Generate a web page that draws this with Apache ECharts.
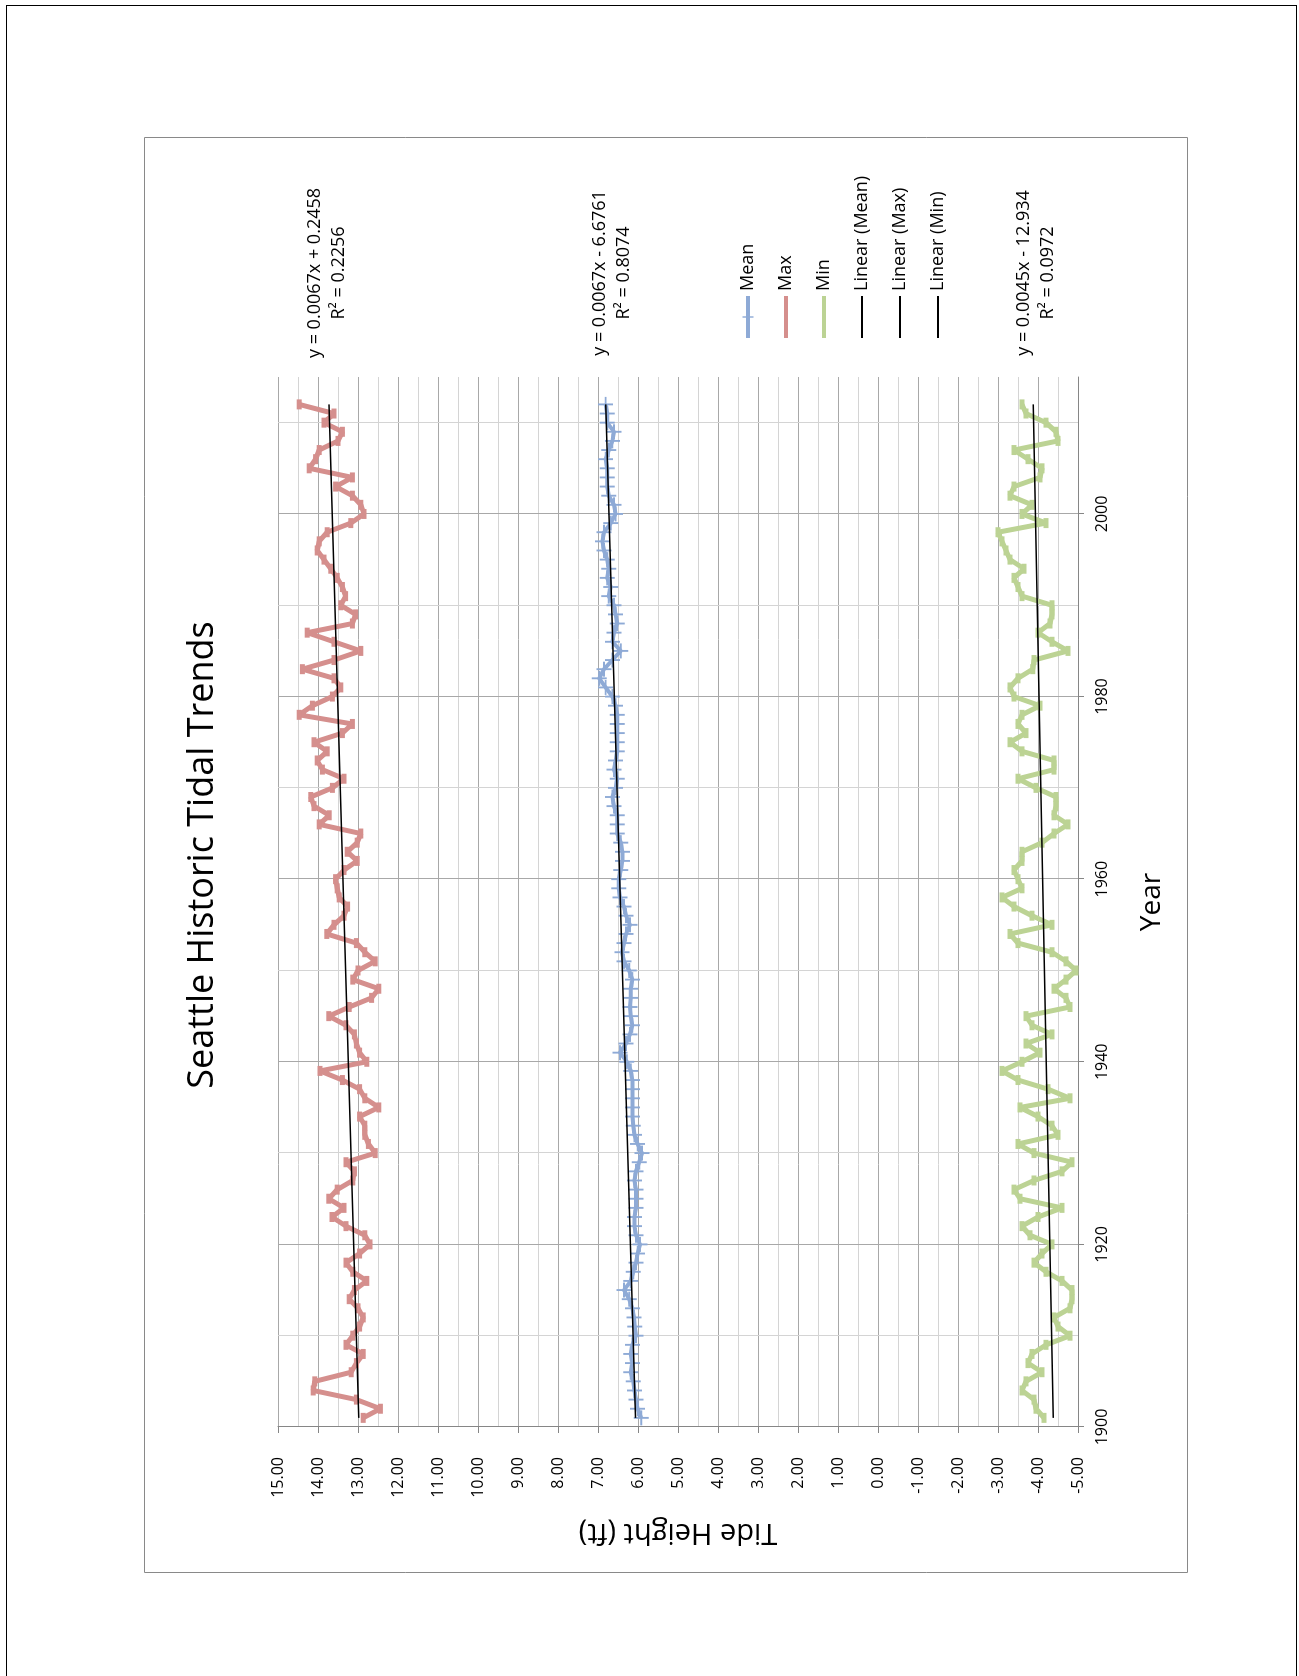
<!DOCTYPE html>
<html><head><meta charset="utf-8">
<script src="https://cdn.jsdelivr.net/npm/echarts@6/dist/echarts.min.js"></script>
<style>
html,body{margin:0;padding:0;background:#fff;width:1299px;height:1676px;overflow:hidden;}
#page{position:absolute;left:6px;top:5px;width:1291px;height:1700px;border:1px solid #000;box-sizing:border-box;}
#frame{position:absolute;left:0;top:0;width:1436px;height:1044px;transform-origin:0 0;transform:translate(144px,1573px) rotate(-90deg);background:#fff;}
#chart{position:absolute;left:0;top:0;width:1436px;height:1044px;}
</style></head>
<body>
<div id="page"></div>
<div id="frame"><div id="chart"></div></div>
<script>
const years = [1901,1902,1903,1904,1905,1906,1907,1908,1909,1910,1911,1912,1913,1914,1915,1916,1917,1918,1919,1920,
1921,1922,1923,1924,1925,1926,1927,1928,1929,1930,1931,1932,1933,1934,1935,1936,1937,1938,1939,1940,
1941,1942,1943,1944,1945,1946,1947,1948,1949,1950,1951,1952,1953,1954,1955,1956,1957,1958,1959,1960,
1961,1962,1963,1964,1965,1966,1967,1968,1969,1970,1971,1972,1973,1974,1975,1976,1977,1978,1979,1980,
1981,1982,1983,1984,1985,1986,1987,1988,1989,1990,1991,1992,1993,1994,1995,1996,1997,1998,1999,2000,
2001,2002,2003,2004,2005,2006,2007,2008,2009,2010,2011,2012];

const meanVals = [5.92,6.01,6.05,6.09,6.12,6.18,6.14,6.18,6.14,6.05,6.08,6.10,6.14,6.22,6.35,6.18,6.12,6.05,6.01,5.95,
6.05,6.09,6.09,6.05,6.05,6.05,6.09,6.05,5.97,5.90,6.01,6.09,6.12,6.14,6.14,6.14,6.14,6.14,6.18,6.28,
6.45,6.30,6.20,6.14,6.18,6.20,6.18,6.18,6.14,6.22,6.35,6.40,6.35,6.30,6.20,6.30,6.35,6.45,6.48,6.48,
6.43,6.39,6.39,6.43,6.52,6.52,6.52,6.60,6.64,6.56,6.52,6.60,6.56,6.52,6.52,6.52,6.52,6.52,6.56,6.64,
6.81,6.97,6.85,6.64,6.43,6.64,6.60,6.52,6.56,6.60,6.73,6.68,6.77,6.73,6.77,6.85,6.89,6.85,6.68,6.56,
6.60,6.73,6.77,6.77,6.77,6.81,6.73,6.64,6.60,6.77,6.77,6.81];

const maxVals = [12.87,12.44,13.04,14.12,14.08,13.17,13.04,12.87,13.30,13.13,12.96,12.87,13.00,13.22,13.09,12.78,13.13,13.30,12.96,12.70,
12.83,13.30,13.65,13.35,13.73,13.52,13.13,13.09,13.30,12.57,12.74,12.83,12.83,12.96,12.48,12.83,12.96,13.39,13.95,12.78,
12.96,13.04,13.09,13.30,13.73,13.22,12.66,12.48,13.13,13.00,12.57,12.83,13.04,13.78,13.60,13.35,13.26,13.47,13.52,13.56,
13.35,13.02,13.27,13.02,12.93,13.97,13.72,14.10,14.18,13.64,13.35,13.89,14.02,13.77,14.10,13.39,13.14,14.47,14.14,13.64,
13.43,13.60,14.39,13.60,12.93,13.60,14.27,13.14,13.06,13.43,13.31,13.39,13.52,13.68,13.85,14.02,13.97,13.77,13.18,12.85,
12.93,13.14,13.56,13.14,14.22,14.06,13.97,13.50,13.39,13.85,13.60,14.47];

const minVals = [-4.15,-3.95,-3.90,-3.60,-3.70,-4.10,-3.75,-3.85,-4.20,-4.80,-4.50,-4.40,-4.80,-4.85,-4.85,-4.60,-4.20,-3.90,-4.10,-4.35,
-3.80,-3.60,-4.00,-4.60,-3.55,-3.40,-3.90,-4.60,-4.85,-3.90,-3.50,-4.50,-4.35,-4.00,-3.55,-4.80,-4.25,-3.50,-3.10,-3.60,
-4.05,-3.70,-4.35,-3.85,-3.70,-4.80,-4.70,-4.40,-4.70,-4.95,-4.70,-4.35,-3.50,-3.30,-4.35,-3.85,-3.40,-3.10,-3.60,-3.50,
-3.40,-3.60,-3.60,-4.10,-4.40,-4.75,-4.40,-4.45,-4.45,-3.95,-3.50,-4.40,-4.40,-3.60,-3.30,-3.70,-3.50,-3.60,-4.05,-3.40,
-3.30,-3.50,-3.87,-3.90,-4.75,-4.35,-4.00,-4.30,-4.35,-4.35,-3.60,-3.50,-3.40,-3.65,-3.30,-3.20,-3.10,-3.00,-4.20,-3.60,
-3.85,-3.30,-3.40,-4.05,-4.10,-3.75,-3.40,-4.50,-4.45,-4.20,-3.70,-3.60];

const seriesNames = ['Mean', 'Max', 'Min'];
const trendNames = ['Linear (Mean)', 'Linear (Max)', 'Linear (Min)'];
const trendSlope = [0.0067, 0.0067, 0.0045];
const trendIntercept = [-6.6761, 0.2458, -12.934];
const trendR2 = ['0.8074', '0.2256', '0.0972'];
const yearTickLabels = [1900, 1920, 1940, 1960, 1980, 2000];
const titleText = 'Seattle Historic Tidal Trends';
const xTitle = 'Year';
const yTitle = 'Tide Height (ft)';

const FONT = '"Open Sans", "Noto Sans", sans-serif';
const colors = { Mean: '#8EAAD6', Max: '#D58F8D', Min: '#BCD394' };

function pairs(vals) { return years.map((y, i) => [y, vals[i]]); }
function trendLine(k) {
  const x0 = years[0], x1 = years[years.length - 1];
  return [[x0, trendSlope[k] * x0 + trendIntercept[k]], [x1, trendSlope[k] * x1 + trendIntercept[k]]];
}
function eqText(k) {
  const b = trendIntercept[k];
  return 'y = ' + trendSlope[k] + 'x ' + (b < 0 ? '- ' : '+ ') + Math.abs(b) + '\nR\u00B2 = ' + trendR2[k];
}

const plusPath = 'path://M7,0 L9,0 L9,7 L16,7 L16,9 L9,9 L9,16 L7,16 L7,9 L0,9 L0,7 L7,7 Z';

const chart = echarts.init(document.getElementById('chart'), null, { width: 1436, height: 1044, renderer: 'canvas' });

const dataSeries = [
  { name: 'Mean', vals: meanVals, symbol: plusPath, symbolSize: 15, width: 4 },
  { name: 'Max', vals: maxVals, symbol: 'rect', symbolSize: [10, 5], width: 5 },
  { name: 'Min', vals: minVals, symbol: 'rect', symbolSize: [10, 5], width: 5 }
].map(s => ({
  name: s.name, type: 'line', data: pairs(s.vals), xAxisIndex: 0, yAxisIndex: 0,
  symbol: s.symbol, symbolSize: s.symbolSize, showSymbol: true,
  lineStyle: { color: colors[s.name], width: s.width },
  itemStyle: { color: colors[s.name] },
  z: 2, animation: false
}));

const trendSeries = trendNames.map((n, k) => ({
  name: n, type: 'line', data: trendLine(k), symbol: 'none', xAxisIndex: 0, yAxisIndex: 0,
  lineStyle: { color: '#000', width: 1.5 }, itemStyle: { color: '#000' }, z: 3, animation: false
}));

const eqPos = [[1300, 468], [1300, 183], [1300, 892]];

chart.setOption({
  animation: false,
  textStyle: { fontFamily: FONT },
  grid: { left: 146, right: 240, top: 134, bottom: 110, containLabel: false },
  legend: {
    orient: 'vertical', left: 1228, top: 589, itemWidth: 42, itemHeight: 14, itemGap: 18,
    selectedMode: false,
    textStyle: { fontSize: 18, color: '#000', lineHeight: 20, fontFamily: FONT },
    data: [
      { name: 'Mean', lineStyle: { width: 4 } },
      { name: 'Max', itemStyle: { opacity: 0 }, lineStyle: { width: 4 } },
      { name: 'Min', itemStyle: { opacity: 0 }, lineStyle: { width: 4 } },
      { name: 'Linear (Mean)', itemStyle: { opacity: 0 }, lineStyle: { width: 2 } },
      { name: 'Linear (Max)', itemStyle: { opacity: 0 }, lineStyle: { width: 2 } },
      { name: 'Linear (Min)', itemStyle: { opacity: 0 }, lineStyle: { width: 2 } }
    ]
  },
  xAxis: [
    {
      type: 'value', min: 1900, max: 2015, interval: 10, position: 'bottom',
      axisLine: { show: false, onZero: false }, axisTick: { show: false }, axisLabel: { show: false },
      splitLine: { show: true, showMaxLine: false, lineStyle: { color: ['#a8a8a8', '#d4d4d4'], width: 1 } }
    },
    {
      type: 'value', min: 1900, max: 2015, interval: 20, position: 'bottom',
      axisLine: { show: true, onZero: false, lineStyle: { color: '#868686', width: 1 } },
      axisTick: { show: true, length: 6, customValues: yearTickLabels, lineStyle: { color: '#868686' } },
      axisLabel: { customValues: yearTickLabels, formatter: v => String(v), margin: 16, fontSize: 16, color: '#000', fontFamily: FONT },
      splitLine: { show: false },
      name: xTitle, nameLocation: 'middle', nameGap: 60,
      nameTextStyle: { fontSize: 28, color: '#000', fontFamily: FONT }
    }
  ],
  yAxis: {
    type: 'value', min: -5, max: 15, interval: 1,
    axisLine: { show: true, onZero: false, lineStyle: { color: '#868686', width: 1 } },
    axisTick: { show: true, length: 6, lineStyle: { color: '#868686' } },
    axisLabel: { formatter: v => v.toFixed(2), margin: 30, fontSize: 16, color: '#000', fontFamily: FONT },
    splitLine: { show: true, lineStyle: { color: '#a8a8a8', width: 1 } },
    minorTick: { show: false, splitNumber: 2 },
    minorSplitLine: { show: true, lineStyle: { color: '#d4d4d4', width: 1 } },
    name: yTitle, nameLocation: 'middle', nameGap: 91, nameRotate: 90,
    nameTextStyle: { fontSize: 29, color: '#000', fontFamily: FONT }
  },
  graphic: [
    { type: 'rect', shape: { x: 0.5, y: 0.5, width: 1435, height: 1043 }, style: { fill: 'none', stroke: '#898989', lineWidth: 1 }, silent: true, z: 100 },
    { type: 'text', x: 718, y: 59, style: { text: titleText, fontSize: 36, fontFamily: FONT, fill: '#000', align: 'center', verticalAlign: 'middle' }, silent: true },
    ...[0, 1, 2].map(k => ({
      type: 'text', x: eqPos[k][0], y: eqPos[k][1],
      style: { text: eqText(k), fontSize: 18, lineHeight: 24, fontFamily: FONT, fill: '#000', align: 'center', verticalAlign: 'middle' },
      silent: true
    }))
  ],
  series: [...dataSeries, ...trendSeries]
});
</script>
</body></html>
